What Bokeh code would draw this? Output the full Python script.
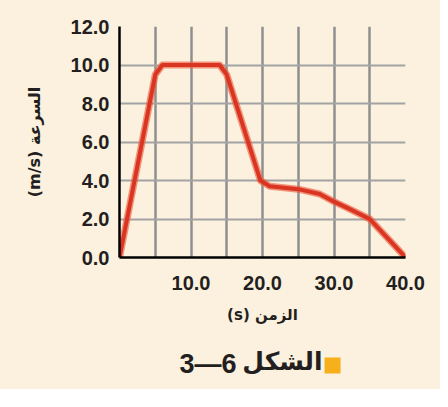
from bokeh.plotting import figure
from bokeh.layouts import column
from bokeh.models import FixedTicker, Range1d, PrintfTickFormatter
from bokeh.core.properties import value
from bokeh.embed import file_html
from bokeh.resources import INLINE

# data
time_s = [0, 5, 6, 14, 15, 19.7, 21, 25, 28, 30, 32, 35, 37, 38.5, 40]
speed = [0, 9.5, 10, 10, 9.5, 4.0, 3.7, 3.55, 3.3, 2.9, 2.55, 2.0, 1.2, 0.6, 0]
x_ticks = [10, 20, 30, 40]
y_ticks = [0, 2, 4, 6, 8, 10, 12]
grid_x = [0, 5, 10, 15, 20, 25, 30, 35, 40]
x_title = "(s) الزمن"
y_title = "(m/s) السرعة"
caption_num = "3—6"
caption_word = "الشكل"

CREAM = "#fbf1de"
INK = "#231f20"

p = figure(frame_width=286, frame_height=231,
           x_range=Range1d(0, 40), y_range=Range1d(0, 12),
           min_border_left=119, min_border_right=35,
           min_border_top=26, min_border_bottom=80,
           output_backend="svg", toolbar_location=None)
p.background_fill_color = None
p.border_fill_color = CREAM
p.outline_line_color = None

p.xaxis.ticker = FixedTicker(ticks=x_ticks)
p.yaxis.ticker = FixedTicker(ticks=y_ticks)
p.xgrid.ticker = FixedTicker(ticks=grid_x)
p.ygrid.ticker = FixedTicker(ticks=y_ticks)
p.xgrid.grid_line_color = "#8f8f8f"
p.xgrid.grid_line_width = 2.5
p.ygrid.grid_line_color = "#a3a3a3"
p.ygrid.grid_line_width = 2

for ax in (p.xaxis[0], p.yaxis[0]):
    ax.formatter = PrintfTickFormatter(format="%.1f")
    ax.axis_line_color = "black"
    ax.axis_line_width = 2.5
    ax.major_tick_line_color = None
    ax.minor_tick_line_color = None
    ax.major_tick_out = 0
    ax.major_tick_in = 0
    ax.major_label_text_font = "Liberation Sans"
    ax.major_label_text_font_style = "bold"
    ax.major_label_text_font_size = "20px"
    ax.major_label_text_color = INK
    ax.axis_label_text_font = "DejaVu Sans"
    ax.axis_label_text_font_style = "bold"
    ax.axis_label_text_color = INK

p.xaxis.axis_label = x_title
p.yaxis.axis_label = y_title
p.xaxis.axis_label_text_font_size = "15px"
p.yaxis.axis_label_text_font_size = "16px"
p.xaxis.major_label_standoff = 18
p.yaxis.major_label_standoff = 10
p.xaxis.axis_label_standoff = 13
p.yaxis.axis_label_standoff = 24

p.line(time_s, speed, line_color="#ec5f40", line_width=7, line_alpha=0.65, line_join="round")
p.line(time_s, speed, line_color="#da3422", line_width=4, line_join="round")

# caption strip (its frame lines up with the chart frame in the column)
cap = figure(frame_width=286, frame_height=52, x_range=Range1d(0, 40), y_range=Range1d(0, 52),
             min_border_left=119, min_border_right=35, min_border_top=0, min_border_bottom=0,
             x_axis_type=None, y_axis_type=None,
             output_backend="svg", toolbar_location=None)
cap.background_fill_color = None
cap.border_fill_color = CREAM
cap.outline_line_color = None
cap.xgrid.visible = False
cap.ygrid.visible = False
cap.text(x=[8.4], y=[26], text=[caption_num], text_font=value("Liberation Sans"),
         text_font_style="bold", text_font_size="27px", text_color=INK,
         text_baseline="middle", text_align="left")
cap.text(x=[28.4], y=[28], text=[caption_word], text_font=value("DejaVu Sans"),
         text_font_style="bold", text_font_size="25px", text_color=INK,
         text_baseline="middle", text_align="right")
cap.scatter(x=[29.8], y=[24], marker="square", size=16, fill_color="#f6b01c", line_color=None)

layout = column(p, cap, spacing=0, styles={"background-color": CREAM})
open("out.html", "w").write(file_html(layout, INLINE))
